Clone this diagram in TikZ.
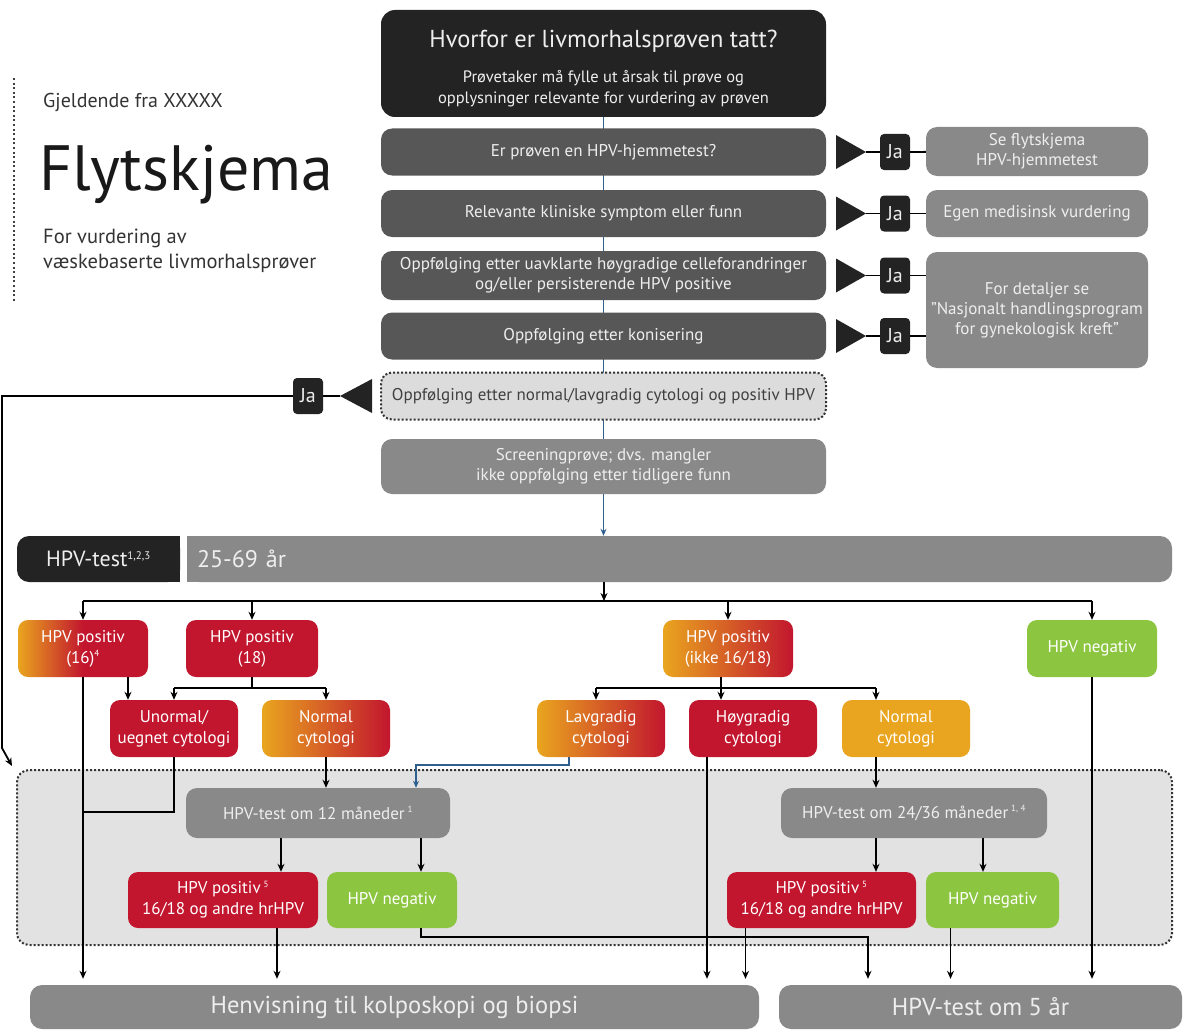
\documentclass[tikz,border=0pt]{standalone}
\usepackage{fontspec}
\setmainfont{PT Sans}
\usetikzlibrary{arrows.meta, positioning, calc, backgrounds}
\definecolor{topdark}{HTML}{232323}
\definecolor{rowdark}{HTML}{575757}
\definecolor{rowgrey}{HTML}{898989}
\definecolor{rowlight}{HTML}{DCDCDC}
\definecolor{zonegrey}{HTML}{E2E2E2}
\definecolor{boxtext}{HTML}{EEEEEE}
\definecolor{hpvred}{HTML}{C2162E}
\definecolor{hpvorange}{HTML}{E9A51F}
\definecolor{hpvgreen}{HTML}{8CC540}
\definecolor{flowblue}{HTML}{2F5F8F}

\begin{document}
\begin{tikzpicture}[x=1pt, y=-1pt,
    topbox/.style={rounded corners=14pt, fill=topdark, text=boxtext, minimum width=445pt, minimum height=107pt, align=center, inner sep=0pt, font=\fontsize{16.5}{21}\selectfont},
    rowbox/.style={rounded corners=11pt, fill=rowdark, text=boxtext, minimum width=445pt, minimum height=47pt, align=center, inner sep=0pt, font=\fontsize{17}{20}\selectfont},
    greybox/.style={rowbox, fill=rowgrey},
    dotbox/.style={rowbox, fill=rowlight, text=black!75, draw=black!80, line width=2pt, dash pattern=on 2pt off 2pt},
    jabox/.style={rounded corners=4pt, fill=topdark, text=boxtext, minimum width=30pt, minimum height=36pt, inner sep=0pt, font=\fontsize{20}{22}\selectfont},
    hpvbox/.style={rounded corners=10pt, text=white, minimum width=130pt, minimum height=57pt, align=center, inner sep=0pt, font=\fontsize{17}{21}\selectfont},
    redbox/.style={hpvbox, fill=hpvred},
    orangebox/.style={hpvbox, fill=hpvorange},
    mixbox/.style={hpvbox, left color=hpvorange, right color=hpvred},
    greenbox/.style={hpvbox, fill=hpvgreen},
    barbox/.style={rounded corners=12pt, fill=rowgrey, text=boxtext, minimum height=44pt, inner sep=0pt, font=\fontsize{24.5}{28}\selectfont},
    link/.style={line width=1.8pt},
    arr/.style={link, -{Stealth[length=8pt, width=7pt]}},
    bluearr/.style={line width=1.2pt, draw=flowblue, -{Stealth[length=7pt, width=6pt]}}
  ]
  \useasboundingbox (0,0) rectangle (1191,1030);

  % heading at the left
  \draw[line width=2.5pt, dash pattern=on 2pt off 2.6pt, black!75] (14,78) -- (14,302);
  \node[anchor=base west, inner sep=0pt, text=black!80, font=\fontsize{20}{24}\selectfont] (valid) at (43,108) {Gjeldende fra XXXXX};
  \node[anchor=base west, inner sep=0pt, text=black!90, font=\fontsize{64}{68}\selectfont] (title) at (39,190) {Flytskjema};
  \node[anchor=west, inner sep=0pt, align=left, text=black!80, font=\fontsize{20.5}{25}\selectfont] (purpose) at (43,251) {For vurdering av\\væskebaserte livmorhalsprøver};

  % questions
  \node[topbox] (why) at (603.5,63.5) {\rule{0pt}{28pt}{\fontsize{24.5}{28}\selectfont Hvorfor er livmorhalsprøven tatt?}\\[14pt]Prøvetaker må fylle ut årsak til prøve og\\opplysninger relevante for vurdering av prøven};
  \node[rowbox] (q1) at (603.5,152) {Er prøven en HPV-hjemmetest?};
  \node[rowbox] (q2) at (603.5,213.5) {Relevante kliniske symptom eller funn};
  \node[rowbox, minimum height=49pt] (q3) at (603.5,275.5) {Oppfølging etter uavklarte høygradige celleforandringer\\og/eller persisterende HPV positive};
  \node[rowbox] (q4) at (603.5,336) {Oppfølging etter konisering};
  \node[dotbox] (q5) at (603.5,396) {Oppfølging etter normal/lavgradig cytologi og positiv HPV};
  \node[greybox, minimum height=55pt] (q6) at (603.5,466.5) {Screeningprøve; dvs. mangler\\ikke oppfølging etter tidligere funn};

  % answers to the right
  \node[greybox, minimum width=222pt, minimum height=49pt] (r1) at (1037,151.5) {Se flytskjema\\HPV-hjemmetest};
  \node[greybox, minimum width=222pt] (r2) at (1037,213.5) {Egen medisinsk vurdering};
  \node[greybox, minimum width=222pt, minimum height=116pt] (r3) at (1037,310) {For detaljer se\\"Nasjonalt handlingsprogram\\for gynekologisk kreft"};

  \node[jabox] (ja1) at (895,152) {Ja};
  \node[jabox] (ja2) at (895,213.5) {Ja};
  \node[jabox] (ja3) at (895,275.5) {Ja};
  \node[jabox] (ja4) at (895,336) {Ja};
  \node[jabox] (ja5) at (308,396) {Ja};

  \coordinate (tip1) at (866,152);
  \coordinate (tip2) at (866,213.5);
  \coordinate (tip3) at (866,275.5);
  \coordinate (tip4) at (866,336);
  \coordinate (tip5) at (340,396);
  \fill[topdark] (tip1) -- ++(-30,-17) -- ++(0,34) -- cycle;
  \fill[topdark] (tip2) -- ++(-30,-17) -- ++(0,34) -- cycle;
  \fill[topdark] (tip3) -- ++(-30,-17) -- ++(0,34) -- cycle;
  \fill[topdark] (tip4) -- ++(-30,-17) -- ++(0,34) -- cycle;
  \fill[topdark] (tip5) -- ++(32,-17) -- ++(0,34) -- cycle;
  \draw[link] (tip1) -- (ja1) -- (r1);
  \draw[link] (tip2) -- (ja2) -- (r2);
  \draw[link] (tip3) -- (ja3) -- (ja3 -| r3.west);
  \draw[link] (tip4) -- (ja4) -- (ja4 -| r3.west);

  % HPV test bar
  \node[rounded corners=12pt, fill=topdark, text=boxtext, minimum width=163pt, minimum height=46pt, inner sep=0pt, font=\fontsize{22}{26}\selectfont] (test) at (98.5,559) {HPV-test\textsuperscript{\fontsize{11}{12}\selectfont 1,2,3}};
  \node[barbox, minimum width=985pt, minimum height=46pt, text width=965pt, align=left, inner xsep=10pt, font=\fontsize{24}{28}\selectfont] (age) at (679.5,559) {25-69 år};
  \begin{scope}[on background layer]
    \fill[topdark] (test.north) rectangle (test.south east);
    \fill[rowgrey] (age.north west) rectangle (age.south);
    \draw[bluearr] (why.south) -- (why.south |- age.north);
  \end{scope}

  % first results
  \node[mixbox, right color=hpvred, middle color=hpvred] (p16) at (83,648.5) {HPV positiv\\(16)\textsuperscript{\fontsize{9}{10}\selectfont 4}};
  \node[redbox, minimum width=132pt] (p18) at (252,648.5) {HPV positiv\\(18)};
  \node[mixbox] (pother) at (728,648.5) {HPV positiv\\(ikke 16/18)};
  \node[greenbox] (neg) at (1092,648.5) {HPV negativ};

  % cytology
  \node[redbox, minimum width=128pt] (unorm) at (174,728.5) {Unormal/\\uegnet cytologi};
  \node[mixbox, minimum width=128pt] (normL) at (326,728.5) {Normal\\cytologi};
  \node[mixbox, minimum width=128pt] (lav) at (601,728.5) {Lavgradig\\cytologi};
  \node[redbox, minimum width=128pt] (hoy) at (753,728.5) {Høygradig\\cytologi};
  \node[orangebox, minimum width=128pt] (normR) at (906,728.5) {Normal\\cytologi};

  % follow-up zone
  \begin{scope}[on background layer]
    \node[rounded corners=12pt, fill=zonegrey, draw=black!80, line width=2pt, dash pattern=on 2pt off 2pt, minimum width=1155pt, minimum height=175pt] (zone) at (594.5,857.5) {};
  \end{scope}
  \node[greybox, minimum width=264pt, minimum height=50pt] (m12) at (318,813) {HPV-test om 12 måneder\,\textsuperscript{\fontsize{9}{10}\selectfont 1}};
  \node[greybox, minimum width=266pt, minimum height=50pt] (m24) at (914,813) {HPV-test om 24/36 måneder\,\textsuperscript{\fontsize{9}{10}\selectfont 1, 4}};
  \node[redbox, minimum width=190pt, minimum height=56pt] (posL) at (223,900) {HPV positiv\,\textsuperscript{\fontsize{9}{10}\selectfont 5}\\16/18 og andre hrHPV};
  \node[greenbox, minimum height=56pt] (negL) at (392,900) {HPV negativ};
  \node[redbox, minimum width=189pt, minimum height=56pt] (posR) at (821.5,900) {HPV positiv\,\textsuperscript{\fontsize{9}{10}\selectfont 5}\\16/18 og andre hrHPV};
  \node[greenbox, minimum width=133pt, minimum height=56pt] (negR) at (992.5,900) {HPV negativ};

  % outcomes
  \node[barbox, minimum width=729pt] (refer) at (394.5,1007) {Henvisning til kolposkopi og biopsi};
  \node[barbox, minimum width=403pt] (five) at (980.5,1007) {HPV-test om 5 år};

  % connectors
  \coordinate (split) at (604,601);
  \draw[arr] (age.south -| split) -- (split);
  \draw[link] (split -| p16) -- (split -| neg);
  \draw[arr] (split -| p16) -- (p16);
  \draw[arr] (split -| p18) -- (p18);
  \draw[arr] (split -| pother) -- (pother);
  \draw[arr] (split -| neg) -- (neg);

  \draw[arr] ([xshift=45pt]p16.south) -- ([xshift=45pt]p16.south |- unorm.north);
  \coordinate (b18) at (252,688);
  \draw[link] (p18) -- (b18);
  \draw[link] (b18 -| unorm) -- (b18 -| normL);
  \draw[arr] (b18 -| unorm) -- (unorm);
  \draw[arr] (b18 -| normL) -- (normL);

  \coordinate (bother) at (721,688);
  \coordinate (lavin) at (596,688);
  \coordinate (normin) at (876,688);
  \draw[link] (pother.south -| bother) -- (bother);
  \draw[link] (lavin) -- (normin);
  \draw[arr] (lavin) -- (lavin |- lav.north);
  \draw[arr] (bother) -- (bother |- hoy.north);
  \draw[arr] (normin) -- (normin |- normR.north);

  \draw[arr] (normL.south) -- (normL.south |- m12.north);
  \coordinate (bend) at (416,765);
  \draw[bluearr] ([xshift=-32pt]lav.south) |- (bend) -- (bend |- m12.north);
  \draw[arr] (normin |- normR.south) -- (normin |- m24.north);

  \draw[arr] ([xshift=-37pt]m12.south) -- ([xshift=-37pt]m12.south |- posL.north);
  \draw[arr] ([xshift=103pt]m12.south) -- ([xshift=103pt]m12.south |- negL.north);
  \draw[arr] ([xshift=-38pt]m24.south) -- ([xshift=-38pt]m24.south |- posR.north);
  \draw[arr] ([xshift=69pt]m24.south) -- ([xshift=69pt]m24.south |- negR.north);

  % to the outcomes
  \coordinate (joinU) at (83,812);
  \coordinate (cross) at (868,937);
  \draw[link] (unorm.south) |- (joinU);
  \draw[arr, shorten >=6pt] (p16.south) -- (p16.south |- refer.north);
  \draw[arr, shorten >=6pt] ([xshift=54pt]posL.south) -- ([xshift=54pt]posL.south |- refer.north);
  \draw[arr, shorten >=6pt] ([xshift=-46pt]hoy.south) -- ([xshift=-46pt]hoy.south |- refer.north);
  \draw[arr, shorten >=6pt] ([xshift=-76pt]posR.south) -- ([xshift=-76pt]posR.south |- refer.north);
  \draw[arr, shorten >=6pt] ([xshift=29pt]negL.south) |- (cross) -- (cross |- five.north);
  \draw[arr, shorten >=6pt] ([xshift=-42pt]negR.south) -- ([xshift=-42pt]negR.south |- five.north);
  \draw[arr, shorten >=6pt] (neg.south) -- (neg.south |- five.north);

  % back to the follow-up zone
  \coordinate (backtop) at (2,396);
  \coordinate (backbot) at (2,748);
  \coordinate (backin) at (12,766);
  \draw[link] (tip5) -- (ja5);
  \draw[arr] (ja5) -- (backtop) -- (backbot) -- (backin);
\end{tikzpicture}
\end{document}
